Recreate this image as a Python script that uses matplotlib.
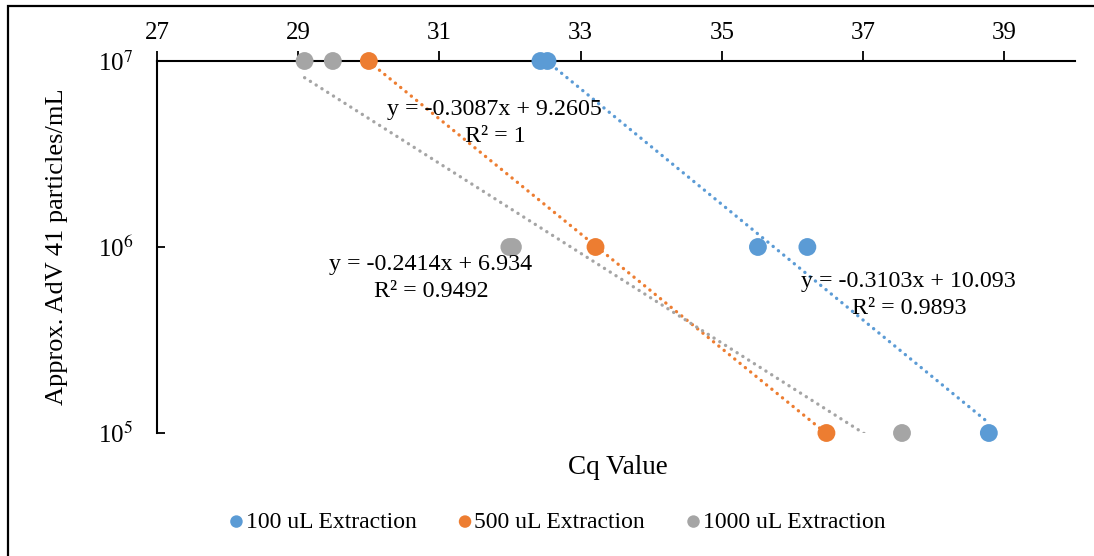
import numpy as np
import matplotlib
matplotlib.use("Agg")
import matplotlib.pyplot as plt
from matplotlib.patches import Rectangle
from matplotlib.ticker import FixedLocator, NullLocator

plt.rcParams['font.family'] = ['Liberation Serif', 'DejaVu Serif']
plt.rcParams['mathtext.fontset'] = 'stix'

# ---- data ----
series_names = ["100 uL Extraction", "500 uL Extraction", "1000 uL Extraction"]
colors = ["#5B9BD5", "#ED7D31", "#A5A5A5"]

cq_100 = [32.43, 32.53, 35.51, 36.21, 38.78]
conc_100 = [1e7, 1e7, 1e6, 1e6, 1e5]

cq_500 = [30.00, 33.21, 36.48]
conc_500 = [1e7, 1e6, 1e5]

cq_1000 = [29.09, 29.49, 31.99, 32.04, 37.55]
conc_1000 = [1e7, 1e7, 1e6, 1e6, 1e5]

equations = ["y = -0.3103x + 10.093\nR\u00b2 = 0.9893",
             "y = -0.3087x + 9.2605\nR\u00b2 = 1",
             "y = -0.2414x + 6.934\nR\u00b2 = 0.9492"]

x_ticks = [27, 29, 31, 33, 35, 37, 39]
y_ticks = [1e5, 1e6, 1e7]
y_tick_labels = ["10$^5$", "10$^6$", "10$^7$"]

# ---- figure ----
W, H = 1094, 556
fig = plt.figure(figsize=(W / 100, H / 100), dpi=100)
ax = fig.add_axes([157 / W, 1 - 433 / H, (1075 - 157) / W, (433 - 61) / H])

FS = 17

series = [(cq_100, conc_100), (cq_500, conc_500), (cq_1000, conc_1000)]
eq_pos = [(0.819, 0.371), (0.368, 0.833), (0.2985, 0.4167)]

handles = []
for (xs, ys), c, name, eq, pos in zip(series, colors, series_names, equations, eq_pos):
    xs = np.array(xs)
    ly = np.log10(np.array(ys))
    slope, icpt = np.polyfit(xs, ly, 1)
    xl = np.linspace(xs.min(), xs.max(), 200)
    ax.plot(xl, 10 ** (slope * xl + icpt), color=c, lw=2.4,
            linestyle=(0, (0.05, 2.0)), dash_capstyle='round', zorder=2)
    h = ax.scatter(xs, ys, s=165, color=c, edgecolors='none', zorder=3,
                   clip_on=False, label=name)
    handles.append(h)
    ax.text(pos[0], pos[1], eq, transform=ax.transAxes, ha='center', va='center',
            fontsize=17.3, linespacing=1.4, zorder=4)

ax.set_yscale('log')
ax.set_xlim(27, 40)
ax.set_ylim(1e5, 1e7)

ax.xaxis.tick_top()
ax.xaxis.set_major_locator(FixedLocator(x_ticks))
ax.tick_params(axis='x', direction='out', length=7, width=1.3, labelsize=18, pad=5)

ax.yaxis.set_major_locator(FixedLocator(y_ticks))
ax.yaxis.set_minor_locator(NullLocator())
ax.set_yticklabels(y_tick_labels)
ax.tick_params(axis='y', which='major', direction='in', length=6, width=1.3,
               labelsize=18, pad=17)
ax.tick_params(axis='y', which='minor', length=0)

for s in ['bottom', 'right']:
    ax.spines[s].set_visible(False)
for s in ['top', 'left']:
    ax.spines[s].set_linewidth(1.5)

ax.set_xlabel("Cq Value", fontsize=19.5)
ax.xaxis.set_label_position('bottom')
ax.xaxis.set_label_coords(0.502, -0.06)
ax.set_ylabel("Approx. AdV 41 particles/mL", fontsize=19)
ax.yaxis.set_label_coords(-0.097, 0.5)

leg = fig.legend(handles=handles, loc='center', bbox_to_anchor=(558 / W, 1 - 522 / H),
                 ncol=3, frameon=False, fontsize=FS, handlelength=0.5,
                 handletextpad=0.15, columnspacing=1.8, markerscale=0.7,
                 scatterpoints=1, borderaxespad=0)

# outer border (partly cropped on right and bottom)
fig.patches.append(Rectangle((8 / W, -0.05), 1.2, 1 - 6 / H + 0.05,
                             transform=fig.transFigure, fill=False,
                             edgecolor='black', linewidth=1.6))

fig.savefig("out.png", dpi=100)
